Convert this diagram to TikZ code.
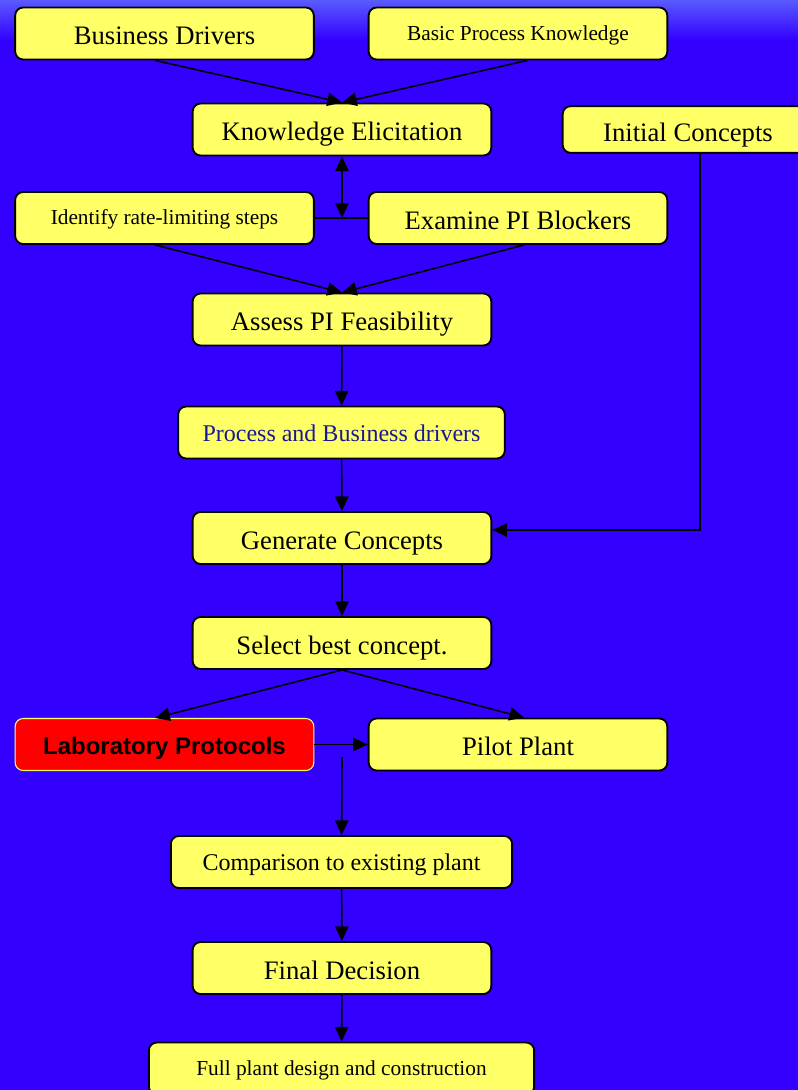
\documentclass[tikz,border=0pt]{standalone}
\usepackage{fontspec}
\setmainfont{Liberation Serif}
\newfontfamily\labfont{Liberation Sans}
\usetikzlibrary{arrows.meta}
\definecolor{bgblue}{RGB}{51,0,255}
\definecolor{topblue}{RGB}{90,90,255}
\definecolor{boxyellow}{RGB}{255,255,102}
\definecolor{textblue}{RGB}{25,25,150}

\begin{document}
\begin{tikzpicture}[x=0.75pt,y=-0.75pt,
  >={Triangle[length=11pt,width=10pt]},
  box/.style={draw=black,line width=1.4pt,fill=boxyellow,rounded corners=6pt,
    minimum width=224pt,minimum height=39pt,inner sep=0pt,
    text height=16.5pt,text depth=0pt,
    font=\fontsize{20}{24}\selectfont},
  small/.style={text height=10pt,font=\fontsize{16}{19}\selectfont},
  mid/.style={text height=13pt,font=\fontsize{18}{22}\selectfont},
  link/.style={line width=1.2pt},
  arr/.style={link,->}]
\useasboundingbox (0,0) rectangle (798,1090);
\clip (0,0) rectangle (798,1090);
% background
\fill[bgblue] (0,0) rectangle (798,1090);
\shade[top color=topblue,bottom color=bgblue] (0,0) rectangle (798,40);

% boxes
\node[box] (bd) at (164.5,33.5) {Business Drivers};
\node[box,small] (bpk) at (518,33.5) {Basic Process Knowledge};
\node[box] (ke) at (342,129.5) {Knowledge Elicitation};
\node[box,minimum width=188pt,minimum height=35pt,text height=18pt] (ic) at (688,129.5) {Initial Concepts};
\node[box,small] (irl) at (164.5,218) {Identify rate-limiting steps};
\node[box] (epb) at (518,218) {Examine PI Blockers};
\node[box] (apf) at (342,319.5) {Assess PI Feasibility};
\node[box,mid,text=textblue,minimum width=245pt] (pbd) at (341.5,432.5) {Process and Business drivers};
\node[box] (gc) at (342,538) {Generate Concepts};
\node[box] (sbc) at (342,643) {Select best concept.};
\node[box,fill=red,draw=boxyellow,line width=0.8pt,text height=15pt,
  font=\labfont\bfseries\fontsize{18}{22}\selectfont] (lp) at (164.5,744.5) {Laboratory Protocols};
\node[box] (pp) at (518,744.5) {Pilot Plant};
\node[box,mid,minimum width=256pt] (cep) at (341.5,862) {Comparison to existing plant};
\node[box] (fd) at (342,968) {Final Decision};
\node[box,small,minimum width=289pt] (fpd) at (341.5,1068.5) {Full plant design and construction};

\coordinate (jn) at (342,218);
\coordinate (lpx) at (342,757);

% connectors
\draw[arr] ([xshift=-7pt]bd.south) -- (ke.north);
\draw[arr] ([xshift=7pt]bpk.south) -- (ke.north);
\draw[link] (irl.east) -- (epb.west);
\draw[link,<->] (ke.south) -- (jn);
\draw[arr] ([xshift=-7pt]irl.south) -- (apf.north);
\draw[arr] ([xshift=4.5pt]epb.south) -- (apf.north);
\draw[arr] (apf) -- (pbd);
\draw[arr] (pbd) -- (gc);
\draw[arr] ([xshift=9pt]ic.south) |- ([yshift=6pt]gc.east);
\draw[arr] (gc) -- (sbc);
\draw[arr] (sbc.south) -- ([xshift=-7pt]lp.north);
\draw[arr] (sbc.south) -- ([xshift=4.5pt]pp.north);
\draw[arr] (lp) -- (pp);
\draw[arr] (lpx) -- (cep);
\draw[arr] (cep) -- (fd);
\draw[arr] (fd) -- (fpd);
\end{tikzpicture}
\end{document}
